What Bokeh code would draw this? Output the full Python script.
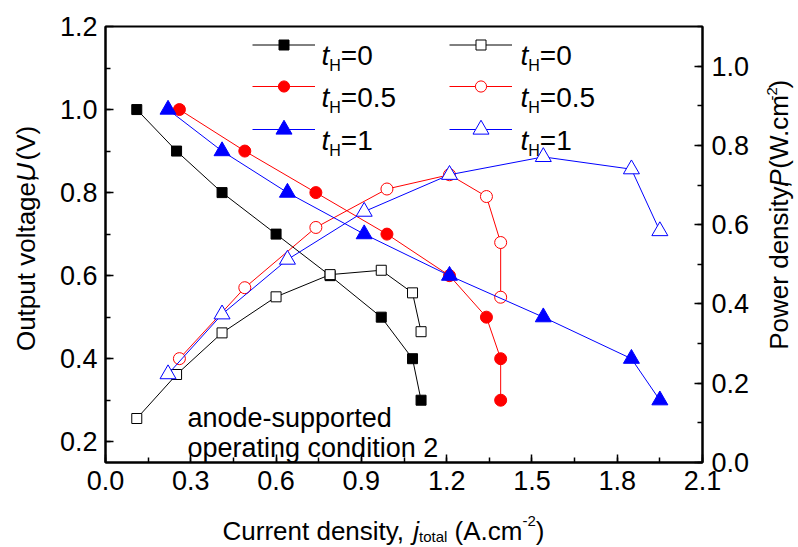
import math
from bokeh.plotting import figure
from bokeh.layouts import row, column
from bokeh.models import (Range1d, LinearAxis, Label, Legend, LegendItem, FixedTicker,
                          NumeralTickFormatter)
from bokeh.embed import file_html
from bokeh.resources import INLINE

# ---------------- data ----------------
j_t0 = [0.11, 0.25, 0.41, 0.60, 0.79, 0.97, 1.08, 1.11]
U_t0 = [1.0, 0.9, 0.8, 0.7, 0.6, 0.5, 0.4, 0.3]
P_t0 = [0.111, 0.222, 0.327, 0.418, 0.474, 0.485, 0.428, 0.330]

j_t05 = [0.26, 0.49, 0.74, 0.99, 1.21, 1.34, 1.39, 1.39]
U_t05 = [1.0, 0.9, 0.8, 0.7, 0.6, 0.5, 0.4, 0.3]
P_t05 = [0.262, 0.441, 0.593, 0.690, 0.726, 0.671, 0.555, 0.417]

j_t1 = [0.22, 0.41, 0.64, 0.91, 1.21, 1.54, 1.85, 1.95]
U_t1 = [1.0, 0.9, 0.8, 0.7, 0.6, 0.5, 0.4, 0.3]
P_t1 = [0.223, 0.374, 0.512, 0.633, 0.726, 0.771, 0.740, 0.584]

x_ticks = [0.0, 0.3, 0.6, 0.9, 1.2, 1.5, 1.8, 2.1]
u_ticks = [0.2, 0.4, 0.6, 0.8, 1.0, 1.2]
p_ticks = [0.0, 0.2, 0.4, 0.6, 0.8, 1.0]
legend_labels = ["0", "0.5", "1"]

FONT = "Liberation Sans"
MID = 0.34  # distance of the text "middle" above the baseline (em)
X0, X1 = 0.0, 2.1
Y0, Y1 = 0.15, 1.2
# frame position on the page (px)
FL, FR, FT, FB = 105, 702, 26, 462
# layout blocks (page px)
MAIN_L, MAIN_R, MAIN_B = 45, 758, 505
PAGE_W, PAGE_H = 798, 547

p = figure(width=MAIN_R - MAIN_L, height=MAIN_B, x_range=Range1d(X0, X1),
           y_range=Range1d(Y0, Y1), output_backend="svg", toolbar_location=None,
           min_border_left=FL - MAIN_L, min_border_right=MAIN_R - FR,
           min_border_top=FT, min_border_bottom=MAIN_B - FB)
p.extra_y_ranges = {"P": Range1d(0.0, 1.1)}
p.xgrid.visible = False
p.ygrid.visible = False
p.outline_line_color = "black"
p.outline_line_width = 2
p.background_fill_color = "white"
p.border_fill_color = "white"

ax_r = LinearAxis(y_range_name="P")
p.add_layout(ax_r, "right")

def style_axis(ax, ticks, minor, standoff):
    ax.ticker = FixedTicker(ticks=ticks, minor_ticks=minor)
    ax.formatter = NumeralTickFormatter(format="0.0")
    ax.axis_line_width = 2
    ax.axis_line_color = "black"
    ax.major_tick_in = 8
    ax.major_tick_out = 0
    ax.minor_tick_in = 5
    ax.minor_tick_out = 0
    ax.major_tick_line_width = 1.5
    ax.minor_tick_line_width = 1.5
    ax.major_label_text_font = FONT
    ax.major_label_text_font_size = "27px"
    ax.major_label_text_color = "black"
    ax.major_label_standoff = standoff

style_axis(p.xaxis[0], x_ticks, [0.15 * k for k in range(15)], 8)
style_axis(p.yaxis[0], u_ticks, [0.1 * k for k in range(2, 13)], 8)
style_axis(ax_r, p_ticks, [0.1 * k for k in range(0, 12)], 9)

# ---------------- series ----------------
series = [
    (j_t0, U_t0, P_t0, "black", "square", 10),
    (j_t05, U_t05, P_t05, "red", "circle", 12),
    (j_t1, U_t1, P_t1, "blue", "triangle", 16),
]
rend_U, rend_P = [], []
for j, U, P, c, m, s in series:
    l1 = p.line(j, U, line_color=c, line_width=1)
    m1 = p.scatter(j, U, marker=m, size=s, fill_color=c, line_color=c)
    l2 = p.line(j, P, line_color=c, line_width=1, y_range_name="P")
    m2 = p.scatter(j, P, marker=m, size=s, fill_color="white", line_color=c,
                   line_width=1, y_range_name="P")
    rend_U.append((l1, m1))
    rend_P.append((l2, m2))

# ---------------- text helpers ----------------
W = {'C': 722, 'u': 556, 'r': 333, 'e': 556, 'n': 556, 't': 278, ' ': 278, 'd': 556,
     's': 500, 'i': 222, 'y': 500, ',': 278, 'j': 222, 'o': 556, 'a': 556, 'l': 222,
     '(': 333, 'A': 667, '.': 278, 'c': 500, 'm': 833, '-': 333, '2': 556, ')': 333,
     'O': 778, 'p': 556, 'v': 500, 'g': 556, 'U': 722, 'V': 667, 'P': 667, 'w': 722,
     'W': 944, 'H': 722, '=': 584, '0': 556, '5': 556, '1': 556}

def tw(text, size):
    return sum(W.get(ch, 556) for ch in text) / 1000.0 * size

def main_x(px):
    return X0 + (px - FL) / (FR - FL) * (X1 - X0)

def main_y(py):
    return Y1 - (py - FT) / (FB - FT) * (Y1 - Y0)

def run(fig, pieces, x0, y0, vertical=False, fx=lambda v: v, fy=lambda v: v):
    """Place text pieces one after another; (x0, y0) is the baseline start in page px."""
    pos = 0.0
    for text, size, style, raise_ in pieces:
        body = text.strip()
        lead = tw(text[:len(text) - len(text.lstrip())], size)
        if vertical:
            # anchor at the centre of each piece (rotation-safe)
            px = x0 - raise_ - MID * size
            py = y0 - pos - lead - tw(body, size) / 2
            fig.add_layout(Label(x=fx(px), y=fy(py), text=body, angle=math.pi / 2,
                                 text_font=FONT, text_font_size=f"{size}px",
                                 text_font_style=style, text_color="black",
                                 text_align="center", text_baseline="middle"))
        else:
            px = x0 + pos + lead
            py = y0 - raise_
            fig.add_layout(Label(x=fx(px), y=fy(py), text=body,
                                 text_font=FONT, text_font_size=f"{size}px",
                                 text_font_style=style, text_color="black",
                                 text_align="left", text_baseline="alphabetic"))
        pos += tw(text, size)

def title_fig(x_left, x_right, y_top, y_bottom):
    f = figure(width=x_right - x_left, height=y_bottom - y_top,
               x_range=Range1d(x_left, x_right), y_range=Range1d(y_bottom, y_top),
               output_backend="svg", toolbar_location=None,
               x_axis_location=None, y_axis_location=None,
               min_border=0, min_border_left=0, min_border_right=0,
               min_border_top=0, min_border_bottom=0)
    f.xgrid.visible = False
    f.ygrid.visible = False
    f.outline_line_color = None
    f.background_fill_color = "white"
    f.border_fill_color = "white"
    return f

left_t = title_fig(0, MAIN_L, 0, MAIN_B)
right_t = title_fig(MAIN_R, PAGE_W, 0, MAIN_B)
bottom_t = title_fig(0, PAGE_W, MAIN_B, PAGE_H)

# axis titles
run(bottom_t, [("Current density, ", 26, "normal", 0), ("j", 26, "italic", 0),
               ("total", 15, "normal", -6), (" (A.cm", 26, "normal", 0),
               ("-2", 15, "normal", 10), (")", 26, "normal", 0)], 222, 530)
run(left_t, [("Output voltage, ", 26, "normal", 0), ("U", 26, "italic", 0),
             (" (V)", 26, "normal", 0)], 34, 362, vertical=True)
run(right_t, [("Power density, ", 26, "normal", 0), ("P", 26, "italic", 0),
              (" (W.cm", 26, "normal", 0), ("-2", 15, "normal", 10),
              (")", 26, "normal", 0)], 787, 362, vertical=True)

# annotation inside the plot
run(p, [("anode-supported", 27, "normal", 0)], 187, 417, fx=main_x, fy=main_y)
run(p, [("operating condition 2", 27, "normal", 0)], 187, 447, fx=main_x, fy=main_y)

# ---------------- legend ----------------
row_y = [44, 86, 129]
gh_rows = [25, 28, 40]
for k in range(3):
    for gx, tx, rends in [(252, 321, rend_U), (449, 520, rend_P)]:
        gh = gh_rows[k]
        leg = Legend(items=[LegendItem(label=" ", renderers=list(rends[k]))],
                     location=(gx - FL, FB - (row_y[k] + gh / 2)),
                     glyph_width=63, glyph_height=gh, padding=0, margin=0, spacing=0,
                     label_standoff=0, label_width=0, label_height=1,
                     label_text_font_size="1px", border_line_color=None,
                     background_fill_alpha=0)
        p.add_layout(leg)
        run(p, [("t", 28, "italic", 0), ("H", 16, "normal", -10),
                ("=" + legend_labels[k], 28, "normal", 0)], tx, row_y[k] + 11,
            fx=main_x, fy=main_y)

layout = column(row(left_t, p, right_t), bottom_t)
open("out.html", "w").write(file_html(layout, INLINE))
